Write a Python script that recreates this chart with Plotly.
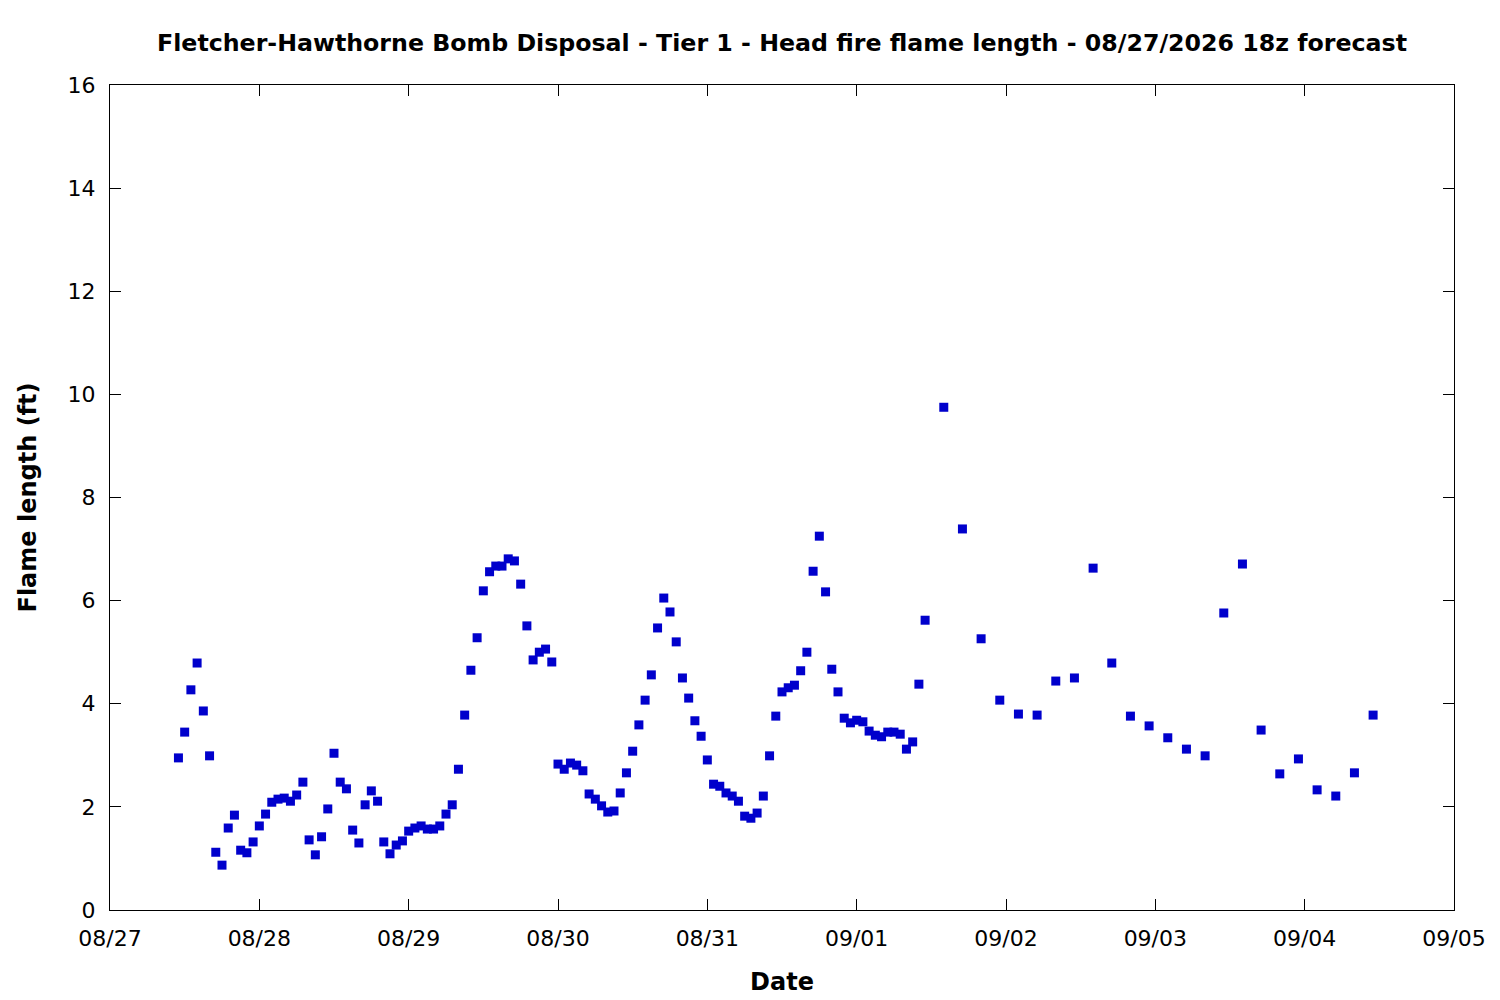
import pandas as pd
import plotly.graph_objects as go

# hourly forecast, 08/27 11:00 -> 09/01 11:00
hourly_flame = [
    2.95, 3.45, 4.27, 4.79, 3.86, 2.99, 1.12, 0.87, 1.59, 1.84, 1.16, 1.11,
    1.32, 1.63, 1.86, 2.09, 2.15, 2.17, 2.11, 2.23, 2.48, 1.36, 1.07, 1.42,
    1.96, 3.04, 2.48, 2.35, 1.55, 1.30, 2.04, 2.31, 2.11, 1.32, 1.09, 1.26,
    1.34, 1.53, 1.59, 1.63, 1.57, 1.57, 1.63, 1.86, 2.04, 2.73, 3.78, 4.65,
    5.28, 6.19, 6.56, 6.67, 6.67, 6.81, 6.77, 6.32, 5.51, 4.85, 5.00, 5.06,
    4.81, 2.83, 2.73, 2.85, 2.81, 2.70, 2.25, 2.15, 2.02, 1.90, 1.92, 2.27,
    2.66, 3.08, 3.59, 4.07, 4.56, 5.47, 6.05, 5.78, 5.20, 4.50, 4.11, 3.67,
    3.37, 2.91, 2.44, 2.40, 2.27, 2.21, 2.11, 1.82, 1.78, 1.88, 2.21, 2.99,
    3.76, 4.23, 4.31, 4.36, 4.64, 5.00, 6.57, 7.25, 6.17, 4.67, 4.23, 3.72,
    3.63, 3.68, 3.65, 3.47, 3.39, 3.36, 3.45, 3.45, 3.41, 3.12, 3.26, 4.38,
    5.62,
]

# 3-hourly forecast, 09/01 14:00 -> 09/04 11:00
three_hourly_flame = [
    9.75, 7.39, 5.26, 4.07, 3.80, 3.78, 4.44, 4.50, 6.63, 4.79, 3.76, 3.57,
    3.34, 3.12, 2.99, 5.76, 6.71, 3.49, 2.64, 2.93, 2.33, 2.21, 2.66, 3.78,
]

hourly_times = pd.date_range("2026-08-27 11:00", periods=len(hourly_flame), freq="1h")
three_hourly_times = pd.date_range("2026-09-01 14:00", periods=len(three_hourly_flame), freq="3h")

times = list(hourly_times) + list(three_hourly_times)
flame = hourly_flame + three_hourly_flame

font = "DejaVu Sans"

fig = go.Figure()
fig.add_trace(go.Scatter(
    x=times, y=flame, mode="markers",
    marker=dict(symbol="square", size=9, color="#0000cc", line=dict(width=0)),
    showlegend=False,
))

fig.update_layout(
    width=1500, height=1000,
    margin=dict(l=102, r=54, t=77, b=98),
    paper_bgcolor="white", plot_bgcolor="white",
    font=dict(family=font, size=22, color="black"),
    title=dict(
        text="<b>Fletcher-Hawthorne Bomb Disposal - Tier 1 - Head fire flame length - 08/27/2026 18z forecast</b>",
        x=0.5, xref="paper", xanchor="center", y=0.965, yref="container", yanchor="middle",
        font=dict(family=font, size=23.7),
    ),
)

fig.update_xaxes(
    title=dict(text="<b>Date</b>", standoff=22, font=dict(family=font, size=24)),
    range=["2026-08-27", "2026-09-05"], dtick=86400000, tickformat="%m/%d",
    ticks="inside", ticklen=11, tickwidth=1, tickcolor="black", ticklabelstandoff=9,
    showline=True, linecolor="black", linewidth=1, mirror="ticks",
    showgrid=False, zeroline=False,
)
fig.update_yaxes(
    title=dict(text="<b>Flame length (ft)</b>", standoff=24, font=dict(family=font, size=24)),
    range=[0, 16], dtick=2,
    ticks="inside", ticklen=11, tickwidth=1, tickcolor="black", ticklabelstandoff=9,
    showline=True, linecolor="black", linewidth=1, mirror="ticks",
    showgrid=False, zeroline=False,
)

fig.write_html("out.html")
